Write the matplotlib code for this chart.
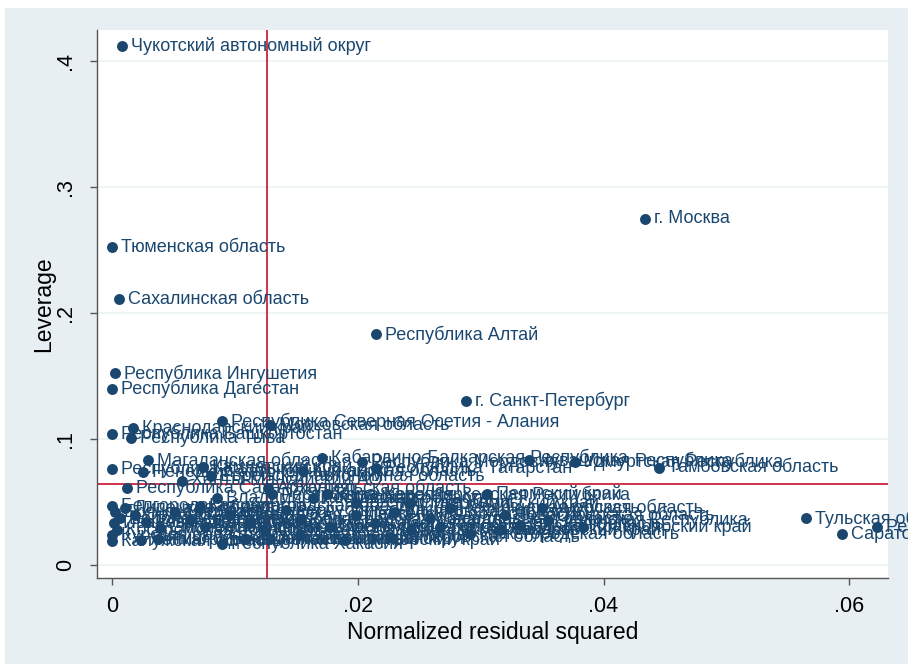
import matplotlib.pyplot as plt
from matplotlib.patches import Rectangle

regions = [
    "Чукотский автономный округ", "г. Москва", "Тюменская область",
    "Сахалинская область", "Республика Алтай", "Республика Ингушетия",
    "Республика Дагестан", "г. Санкт-Петербург",
    "Республика Северная Осетия - Алания", "Московская область",
    "Республика Башкортостан", "Краснодарский край", "Республика Тыва",
    "Магаданская область", "Республика Калмыкия", "Ненецкий автономный округ",
    "Камчатский край", "Еврейская автономная область", "Ханты-Мансийский АО",
    "Архангельская область", "Кабардино-Балкарская Республика",
    "Республика Мордовия", "Республика Татарстан", "Курганская область",
    "Чувашская Республика", "Удмуртская Республика", "Тамбовская область",
    "Пермский край", "Республика Карелия", "Республика Саха (Якутия)",
    "Владимирская область", "Амурская область", "Чеченская Республика",
    "Красноярский край", "Нижегородская область", "Калужская область",
    "Республика Хакасия", "Приморский край", "Тульская область",
    "Саратовская область", "Республика Бурятия",
    "Белгородская область", "Брянская область", "Воронежская область",
    "Ивановская область", "Костромская область", "Курская область",
    "Липецкая область", "Орловская область", "Рязанская область",
    "Смоленская область", "Тверская область", "Ярославская область",
    "Вологодская область", "Мурманская область", "Новгородская область",
    "Псковская область", "Республика Адыгея", "Волгоградская область",
    "Ростовская область", "Карачаево-Черкесская Республика",
    "Оренбургская область", "Пензенская область", "Самарская область",
    "Ульяновская область", "Кировская область", "Свердловская область",
    "Челябинская область", "Ямало-Ненецкий автономный округ",
    "Забайкальский край", "Иркутская область", "Кемеровская область",
    "Новосибирская область", "Омская область", "Томская область",
    "Хабаровский край", "Калининградская область", "Ленинградская область",
    "Республика Коми", "Ставропольский край", "Алтайский край",
]

resid_sq = [
    0.0008, 0.0434, 0.0000, 0.0005, 0.0215, 0.0002, 0.0000, 0.0288,
    0.0089, 0.0128, 0.0000, 0.0017, 0.0015, 0.0029, 0.0000, 0.0025,
    0.0074, 0.0080, 0.0057, 0.0127, 0.0171, 0.0203, 0.0215, 0.0155,
    0.0339, 0.0377, 0.0445, 0.0305, 0.0130, 0.0012, 0.0085, 0.0350,
    0.0355, 0.0383, 0.0291, 0.0000, 0.0089, 0.0189, 0.0565, 0.0594,
    0.0623,
    0.0000, 0.0002, 0.0006, 0.0001, 0.0004, 0.0000, 0.0010, 0.0018,
    0.0027, 0.0039, 0.0051, 0.0063, 0.0075, 0.0096, 0.0112, 0.0124,
    0.0141, 0.0153, 0.0163, 0.0175, 0.0177, 0.0198, 0.0214, 0.0230,
    0.0243, 0.0259, 0.0275, 0.0037, 0.0108, 0.0153, 0.0226, 0.0320,
    0.0332, 0.0267, 0.0316, 0.0071, 0.0023, 0.0198, 0.0242, 0.0128,
]

leverage = [
    0.412, 0.275, 0.252, 0.211, 0.183, 0.152, 0.140, 0.130,
    0.114, 0.111, 0.104, 0.109, 0.101, 0.083, 0.076, 0.074,
    0.078, 0.071, 0.067, 0.061, 0.085, 0.082, 0.077, 0.075,
    0.083, 0.082, 0.077, 0.056, 0.056, 0.061, 0.053, 0.045,
    0.036, 0.030, 0.025, 0.019, 0.017, 0.020, 0.037, 0.025,
    0.030,
    0.047, 0.042, 0.037, 0.033, 0.028, 0.024, 0.045, 0.040,
    0.034, 0.029, 0.042, 0.036, 0.030, 0.040, 0.033, 0.027,
    0.044, 0.036, 0.053, 0.056, 0.030, 0.040, 0.033, 0.042,
    0.028, 0.037, 0.045, 0.021, 0.021, 0.024, 0.022, 0.040,
    0.032, 0.030, 0.028, 0.047, 0.020, 0.049, 0.049, 0.021,
]

mean_resid = 0.0126
mean_lev = 0.0640

x_ticks = [0, 0.02, 0.04, 0.06]
x_labels = ["0", ".02", ".04", ".06"]
y_ticks = [0, 0.1, 0.2, 0.3, 0.4]
y_labels = ["0", ".1", ".2", ".3", ".4"]

navy = "#1a476f"
bg = "#e8eff2"

plt.rcParams["font.family"] = ["Liberation Sans", "DejaVu Sans"]

W, H = 908, 664
fig = plt.figure(figsize=(W / 100, H / 100), dpi=100, facecolor="white")
fig.patches.append(Rectangle((5 / W, 0), 1, 1 - 8 / H, transform=fig.transFigure,
                             facecolor=bg, edgecolor="none", zorder=-10))
ax = fig.add_axes([97 / W, 1 - 578 / H, (888 - 97) / W, (578 - 30) / H])
ax.set_facecolor("white")

ax.set_xlim(-0.00126, 0.06317)
ax.set_ylim(-0.0103, 0.4246)

for t in y_ticks:
    ax.axhline(t, color="#eaf2f3", lw=1.2, zorder=0)

ax.axvline(mean_resid, color="#c8102e", lw=1.2, zorder=1)
ax.axhline(mean_lev, color="#c8102e", lw=1.2, zorder=1)

ax.scatter(resid_sq, leverage, s=62, color=navy, zorder=3, linewidths=0)
for name, xv, yv in zip(regions, resid_sq, leverage):
    ax.annotate(name, (xv, yv), xytext=(6.5, 0), textcoords="offset points",
                va="center", ha="left", fontsize=13, color=navy, zorder=4)

ax.set_xticks(x_ticks)
ax.set_xticklabels(x_labels, fontsize=15.5)
ax.set_yticks(y_ticks)
ax.set_yticklabels(y_labels, fontsize=15.5, rotation=90, va="center")
ax.tick_params(direction="out", length=5, width=1, color="#555555")
ax.tick_params(axis="x", pad=8)
ax.tick_params(axis="y", pad=10)

ax.set_xlabel("Normalized residual squared", fontsize=16.5, labelpad=3)
ax.set_ylabel("Leverage", fontsize=16.5, labelpad=0)

for side in ["top", "right"]:
    ax.spines[side].set_visible(False)
for side in ["left", "bottom"]:
    ax.spines[side].set_color("#555555")
    ax.spines[side].set_linewidth(1)

fig.savefig("out.png", dpi=100, facecolor=fig.get_facecolor())
